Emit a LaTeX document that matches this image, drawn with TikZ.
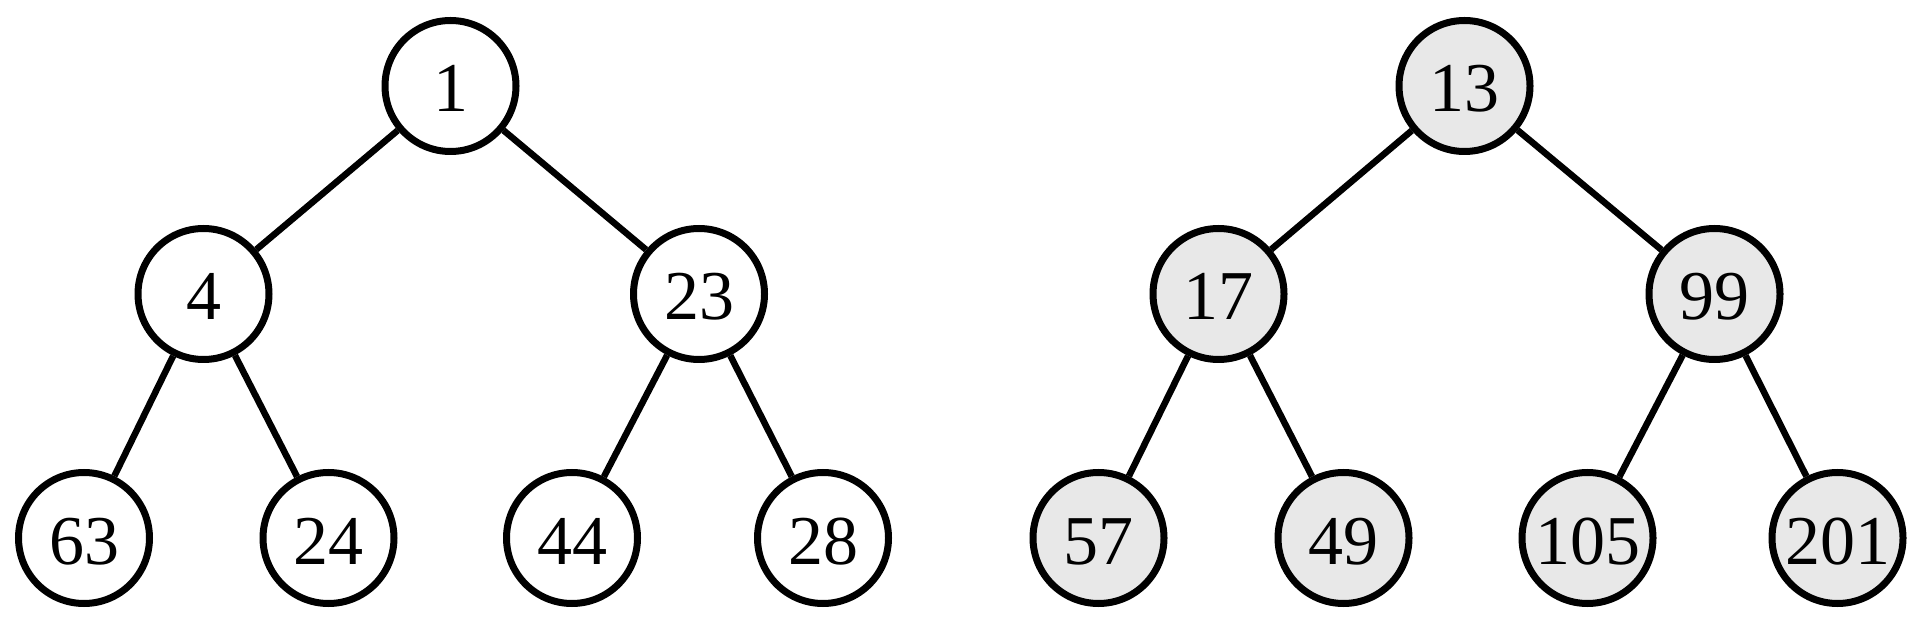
\documentclass[tikz,border=0pt]{standalone}
\usepackage{fontspec}
\setmainfont{Liberation Serif}
\definecolor{lightfill}{HTML}{E8E8E8}
\begin{document}
\begin{tikzpicture}[x=1pt,y=1pt,
  treenode/.style={circle,draw=black,line width=7pt,minimum size=131pt,inner sep=0pt,text height=52pt,text depth=0pt,font=\fontsize{70}{70}\selectfont},
  whitenode/.style={treenode,fill=white},
  graynode/.style={treenode,fill=lightfill},
  edge/.style={line width=6.5pt}]
\useasboundingbox (0,0) rectangle (1920,619);
% tree 1
\node[whitenode] (n1) at (450.5,533) {1};
\node[whitenode] (n4) at (203.5,325) {4};
\node[whitenode] (n23) at (699,325) {23};
\node[whitenode] (n63) at (84,81) {63};
\node[whitenode] (n24) at (328.5,81) {24};
\node[whitenode] (n44) at (572,81) {44};
\node[whitenode] (n28) at (823,81) {28};
\draw[edge] (n1) -- (n4);
\draw[edge] (n1) -- (n23);
\draw[edge] (n4) -- (n63);
\draw[edge] (n4) -- (n24);
\draw[edge] (n23) -- (n44);
\draw[edge] (n23) -- (n28);
% tree 2
\node[graynode] (m13) at (1464.5,533) {13};
\node[graynode] (m17) at (1218.5,325) {17};
\node[graynode] (m99) at (1714.5,325) {99};
\node[graynode] (m57) at (1098.5,81) {57};
\node[graynode] (m49) at (1343.5,81) {49};
\node[graynode] (m105) at (1587.5,81) {105};
\node[graynode] (m201) at (1837.5,81) {201};
\draw[edge] (m13) -- (m17);
\draw[edge] (m13) -- (m99);
\draw[edge] (m17) -- (m57);
\draw[edge] (m17) -- (m49);
\draw[edge] (m99) -- (m105);
\draw[edge] (m99) -- (m201);
\end{tikzpicture}
\end{document}
